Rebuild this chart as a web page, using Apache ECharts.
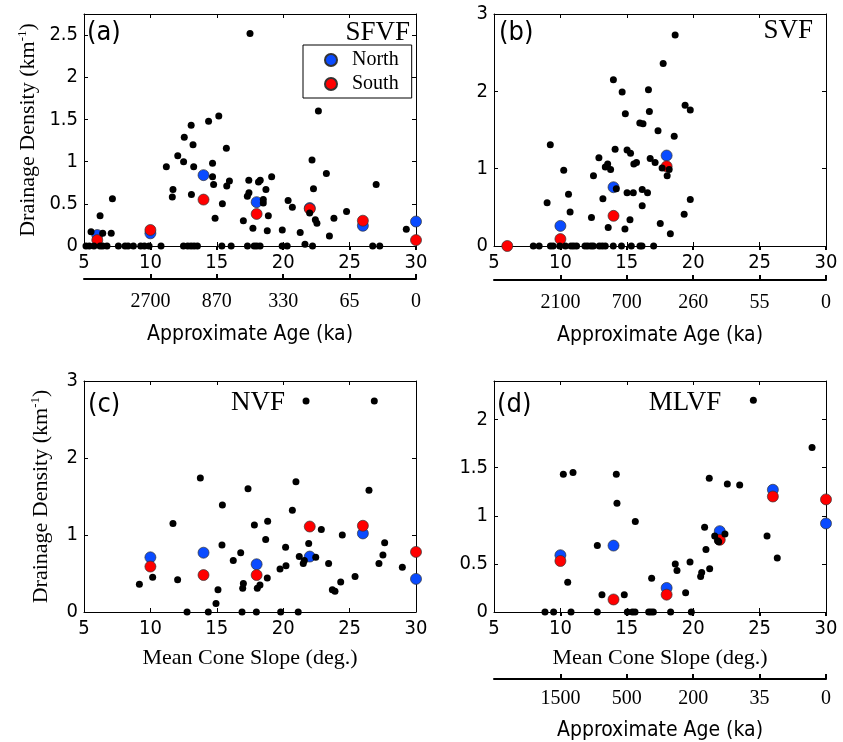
<!DOCTYPE html>
<html>
<head>
<meta charset="utf-8">
<script src="https://cdn.jsdelivr.net/npm/echarts@6/dist/echarts.min.js"></script>
<style>html,body{margin:0;padding:0;background:#fff}#c{width:843px;height:742px}</style>
</head>
<body>
<div id="c"></div>
<script>
// ---------------- DATA ----------------
const slopeTicks = [5, 10, 15, 20, 25, 30];
const ageTickSlopes = [10, 15, 20, 25, 30];
const ageLabelsA = ['2700', '870', '330', '65', '0'];
const ageLabelsB = ['2100', '700', '260', '55', '0'];
const ageLabelsD = ['1500', '500', '200', '35', '0'];

const binsA = [6, 10, 14, 18, 22, 26, 30];
const northA = [0.13, 0.15, 0.84, 0.52, 0.45, 0.24, 0.29];
const southA = [0.07, 0.19, 0.55, 0.38, 0.44, 0.30, 0.07];

const binsB = [6, 10, 14, 18];
const northB = [null, 0.26, 0.76, 1.17];
const southB = [0.00, 0.09, 0.39, 1.03];

const binsC = [10, 14, 18, 22, 26, 30];
const northC = [0.71, 0.77, 0.62, 0.72, 1.02, 0.43];
const southC = [0.59, 0.48, 0.48, 1.11, 1.12, 0.78];

const binsD = [10, 14, 18, 22, 26, 30];
const northD = [0.59, 0.69, 0.25, 0.84, 1.27, 0.92];
const southD = [0.53, 0.13, 0.18, 0.75, 1.20, 1.17];

// individual cones: [mean cone slope (deg), drainage density (km^-1)]
const conesA = [
  [5.53,0.17],[6.21,0.36],[6.41,0.15],[7.05,0.15],[7.14,0.56],[11.2,0.94],[11.7,0.67],[11.65,0.58],
  [12.06,1.07],[12.5,1.0],[12.55,1.29],[13.07,1.43],[13.21,1.20],[13.26,0.94],[13.09,0.61],[14.38,1.48],
  [15.15,1.54],[14.68,0.98],[14.68,0.82],[14.76,0.73],[14.87,0.33],[15.42,0.50],[15.72,1.16],[15.95,0.77],
  [15.75,0.71],[17.0,0.30],[17.3,0.59],[17.42,0.63],[17.41,0.78],[17.5,2.52],[17.72,0.21],[18.14,0.76],
  [18.27,0.78],[18.7,0.67],[18.5,0.55],[18.5,0.51],[18.88,0.36],[18.8,0.18],[19.13,0.82],[19.93,0.19],
  [20.37,0.54],[20.69,0.46],[21.28,0.16],[21.64,0.02],[22.17,1.02],[22.28,0.68],[21.99,0.39],[22.42,0.31],
  [22.54,0.27],[22.65,1.60],[23.25,0.86],[23.48,0.12],[23.82,0.33],[24.77,0.41],[27.0,0.73],[29.27,0.20],
  [5.15,0],[5.4,0],[5.75,0],[6.21,0],[6.41,0],[6.73,0],[7.59,0],[8.09,0],[8.32,0],[8.72,0],[9.27,0],
  [9.55,0],[9.9,0],[10.8,0],[12.49,0],[12.81,0],[13.06,0],[13.29,0],[13.54,0],[15.38,0],[16.08,0],
  [17.31,0],[17.81,0],[18.01,0],[18.26,0],[19.92,0],[20.3,0],[22.21,0],[26.74,0],[27.27,0]
];
const conesB = [
  [9.24,1.31],[9.0,0.56],[10.25,0.98],[10.61,0.67],[10.73,0.44],[12.34,0.37],[12.49,0.91],[12.9,1.14],
  [13.2,0.61],[13.38,1.02],[13.56,1.06],[13.78,0.99],[13.6,0.24],[13.99,2.15],[14.12,1.25],[14.21,0.74],
  [14.65,1.99],[14.89,1.71],[14.86,0.22],[15.02,1.24],[15.28,1.20],[15.02,0.69],[15.49,0.69],[15.24,0.34],
  [15.53,1.06],[15.73,1.08],[15.98,1.59],[16.22,1.58],[16.16,0.73],[16.16,0.52],[16.56,0.69],[16.63,2.02],
  [16.7,1.74],[16.76,1.13],[17.13,1.08],[17.35,1.49],[17.52,0.29],[17.74,2.36],[17.66,1.01],[18.04,0.91],
  [18.19,0.99],[18.28,0.16],[18.57,1.42],[18.64,2.73],[19.32,0.41],[19.39,1.82],[19.78,1.76],[19.78,0.60],
  [7.96,0],[8.4,0],[9.25,0],[9.45,0],[9.95,0],[10.38,0],[10.8,0],[11.0,0],[11.22,0],[11.85,0],[12.05,0],
  [12.3,0],[12.48,0],[12.93,0],[13.15,0],[13.38,0],[13.98,0],[14.6,0],[15.34,0],[15.99,0],[16.14,0],[17.02,0]
];
const conesC = [
  [9.17,0.36],[10.17,0.45],[11.7,1.15],[12.05,0.42],[12.76,0],[13.76,1.74],[14.36,0],[14.94,0.11],
  [15.09,0.29],[15.42,1.39],[15.39,0.87],[16.24,0.67],[16.8,0.77],[16.9,0],[17.0,0.37],[16.95,0.31],
  [17.35,1.60],[17.83,1.13],[17.98,0],[18.05,0.31],[18.25,0.35],[18.68,0.94],[18.83,1.18],[18.8,0.44],
  [19.76,0.56],[19.81,0],[20.18,0.84],[20.21,0.60],[20.69,1.32],[20.96,1.69],[21.13,0],[21.21,0.72],
  [21.51,0.63],[21.59,0.67],[21.72,2.74],[21.92,0.89],[22.45,0.71],[22.87,1.07],[23.42,0.63],[23.7,0.29],
  [23.9,0.27],[24.33,0.39],[24.45,1.0],[25.41,0.46],[26.46,1.58],[26.86,2.74],[27.21,0.63],[27.51,0.74],
  [27.64,0.90],[28.97,0.58]
];
const conesD = [
  [8.84,0],[9.49,0],[10.22,1.43],[10.95,1.45],[10.55,0.31],[10.8,0],[12.78,0],[12.78,0.69],[13.13,0.18],
  [14.21,1.43],[14.26,1.13],[14.81,0.18],[15.04,0],[15.42,0],[15.62,0],[15.64,0.94],[16.65,0],[16.82,0],
  [17.0,0],[16.87,0.35],[18.3,0],[18.65,0.50],[18.78,0.43],[19.43,0.20],[19.76,0.52],[19.86,0],[20.56,0.37],
  [20.64,0.41],[20.86,0.88],[20.96,0.65],[21.21,1.39],[21.24,0.45],[21.62,0.79],[21.84,0.74],[21.92,0.73],
  [22.39,0.81],[22.57,1.33],[23.5,1.32],[24.53,2.20],[25.56,0.79],[26.33,0.56],[28.95,1.71]
];

// ---------------- STYLE ----------------
const SANS = "'DejaVu Sans Condensed','DejaVu Sans',sans-serif";
const SERIF = "'Liberation Serif','Times New Roman',serif";
const BLUE = '#0a4bff';
const RED = '#ff0000';

const grids = [
  {left: 84, top: 14, width: 332, height: 232},
  {left: 494, top: 14, width: 332, height: 232},
  {left: 84, top: 381, width: 332, height: 231},
  {left: 494, top: 381, width: 332, height: 231}
];

const xAxes = [], yAxes = [], series = [];
const blk = {color: '#000', width: 1};

function addPanel(g, cfg) {
  const xi = xAxes.length, yi = yAxes.length;
  xAxes.push({
    type: 'value', gridIndex: g, position: 'bottom', min: 5, max: 30, interval: 5,
    axisLine: {show: true, onZero: false, lineStyle: blk},
    axisTick: {show: true, inside: true, length: 4, lineStyle: blk},
    axisLabel: {show: true, margin: 7, color: '#000', fontFamily: SANS, fontSize: 20},
    splitLine: {show: false},
    name: cfg.xName || '', nameLocation: 'middle', nameGap: 35,
    nameTextStyle: {fontFamily: SERIF, fontSize: 22, color: '#000'}
  });
  xAxes.push({
    type: 'value', gridIndex: g, position: 'top', min: 5, max: 30, interval: 5,
    axisLine: {show: true, onZero: false, lineStyle: blk},
    axisTick: {show: true, inside: true, length: 4, lineStyle: blk},
    axisLabel: {show: false}, splitLine: {show: false}
  });
  if (cfg.ageLabels) {
    const labs = cfg.ageLabels;
    xAxes.push({
      type: 'value', gridIndex: g, position: 'bottom', offset: cfg.ageOffset, min: 5, max: 30,
      axisLine: {show: true, onZero: false, lineStyle: {color: '#000', width: 2}},
      axisTick: {show: true, inside: true, length: 5, customValues: ageTickSlopes, lineStyle: {color: '#000', width: 2}},
      axisLabel: {show: true, customValues: ageTickSlopes, margin: cfg.ageMargin, color: '#000',
        fontFamily: SERIF, fontSize: 20,
        formatter: v => { const i = ageTickSlopes.indexOf(v); return i >= 0 ? labs[i] : ''; }},
      splitLine: {show: false},
      name: 'Approximate Age (ka)', nameLocation: 'middle', nameGap: cfg.ageNameGap,
      nameTextStyle: {fontFamily: SANS, fontSize: 21, color: '#000'}
    });
    xAxes.push({
      type: 'value', gridIndex: g, position: 'bottom', offset: cfg.ageOffset, min: 5, max: 30,
      axisLine: {show: false},
      axisTick: {show: true, inside: false, length: 4, customValues: ageTickSlopes, lineStyle: {color: '#000', width: 2}},
      axisLabel: {show: false}, splitLine: {show: false}
    });
  }
  yAxes.push({
    type: 'value', gridIndex: g, position: 'left', min: 0, max: cfg.yMax, interval: cfg.yInterval,
    axisLine: {show: true, onZero: false, lineStyle: blk},
    axisTick: {show: true, inside: true, length: 4, lineStyle: blk},
    axisLabel: {show: true, margin: 6, color: '#000', fontFamily: SANS, fontSize: 20, showMaxLabel: cfg.showMax},
    splitLine: {show: false},
    name: cfg.yName ? '{n|Drainage Density (km}{s|-1}{n|)}' : '',
    nameLocation: 'middle', nameGap: cfg.yNameGap || 40,
    nameTextStyle: {color: '#000', rich: {
      n: {fontFamily: SERIF, fontSize: 22, color: '#000', lineHeight: 24},
      s: {fontFamily: SERIF, fontSize: 13, color: '#000', verticalAlign: 'top', lineHeight: 24}
    }}
  });
  yAxes.push({
    type: 'value', gridIndex: g, position: 'right', min: 0, max: cfg.yMax, interval: cfg.yInterval,
    axisLine: {show: true, onZero: false, lineStyle: blk},
    axisTick: {show: true, inside: true, length: 4, lineStyle: blk},
    axisLabel: {show: false}, splitLine: {show: false}
  });
  const pair = (bins, vals) => bins.map((b, i) => vals[i] == null ? null : [b, vals[i]]).filter(d => d);
  series.push({
    type: 'scatter', name: 'North', xAxisIndex: xi, yAxisIndex: yi, z: 2,
    symbol: 'circle', symbolSize: 11, data: pair(cfg.bins, cfg.north),
    itemStyle: {color: BLUE, borderColor: '#333', borderWidth: 0.7, opacity: 1}
  });
  series.push({
    type: 'scatter', name: 'South', xAxisIndex: xi, yAxisIndex: yi, z: 3,
    symbol: 'circle', symbolSize: 11, data: pair(cfg.bins, cfg.south),
    itemStyle: {color: RED, borderColor: '#333', borderWidth: 0.7, opacity: 1}
  });
  series.push({
    type: 'scatter', name: 'cones', xAxisIndex: xi, yAxisIndex: yi, z: 4,
    symbol: 'circle', symbolSize: 7, data: cfg.cones,
    itemStyle: {color: '#000', opacity: 1}
  });
}

addPanel(0, {bins: binsA, north: northA, south: southA, cones: conesA, yMax: 2.75, yInterval: 0.5, showMax: false,
  yName: true, yNameGap: 44, ageLabels: ageLabelsA, ageOffset: 33, ageMargin: 13, ageNameGap: 45});
addPanel(1, {bins: binsB, north: northB, south: southB, cones: conesB, yMax: 3, yInterval: 1, showMax: true,
  ageLabels: ageLabelsB, ageOffset: 34, ageMargin: 13, ageNameGap: 45});
addPanel(2, {bins: binsC, north: northC, south: southC, cones: conesC, yMax: 3, yInterval: 1, showMax: true,
  yName: true, yNameGap: 31, xName: 'Mean Cone Slope (deg.)'});
addPanel(3, {bins: binsD, north: northD, south: southD, cones: conesD, yMax: 2.4, yInterval: 0.5, showMax: false,
  xName: 'Mean Cone Slope (deg.)', ageLabels: ageLabelsD, ageOffset: 67, ageMargin: 10, ageNameGap: 41});

const txt = (x, y, s, font, size, align) => ({
  type: 'text', x: x, y: y, z: 10,
  style: {text: s, font: size + 'px ' + font, fill: '#000', textAlign: align, textVerticalAlign: 'middle'}
});

const option = {
  backgroundColor: '#fff',
  animation: false,
  grid: grids,
  xAxis: xAxes,
  yAxis: yAxes,
  legend: {
    data: ['North', 'South'], orient: 'vertical', left: 303, top: 45,
    padding: [5, 13, 4, 21], itemGap: 4, itemWidth: 12, itemHeight: 12,
    borderColor: '#000', borderWidth: 1, backgroundColor: '#fff',
    textStyle: {fontFamily: SERIF, fontSize: 20, color: '#000', lineHeight: 20, padding: [0, 0, 0, 10]},
    selectedMode: false
  },
  series: series,
  graphic: [
    txt(87, 33, '(a)', SANS, 27, 'left'),
    txt(410, 33, 'SFVF', SERIF, 27, 'right'),
    txt(499, 33, '(b)', SANS, 27, 'left'),
    txt(813, 31, 'SVF', SERIF, 27, 'right'),
    txt(88, 405, '(c)', SANS, 27, 'left'),
    txt(258, 403, 'NVF', SERIF, 27, 'center'),
    txt(497, 405, '(d)', SANS, 27, 'left'),
    txt(685, 403, 'MLVF', SERIF, 27, 'center')
  ]
};

const chart = echarts.init(document.getElementById('c'), null, {renderer: 'canvas'});
chart.setOption(option);
</script>
</body>
</html>
